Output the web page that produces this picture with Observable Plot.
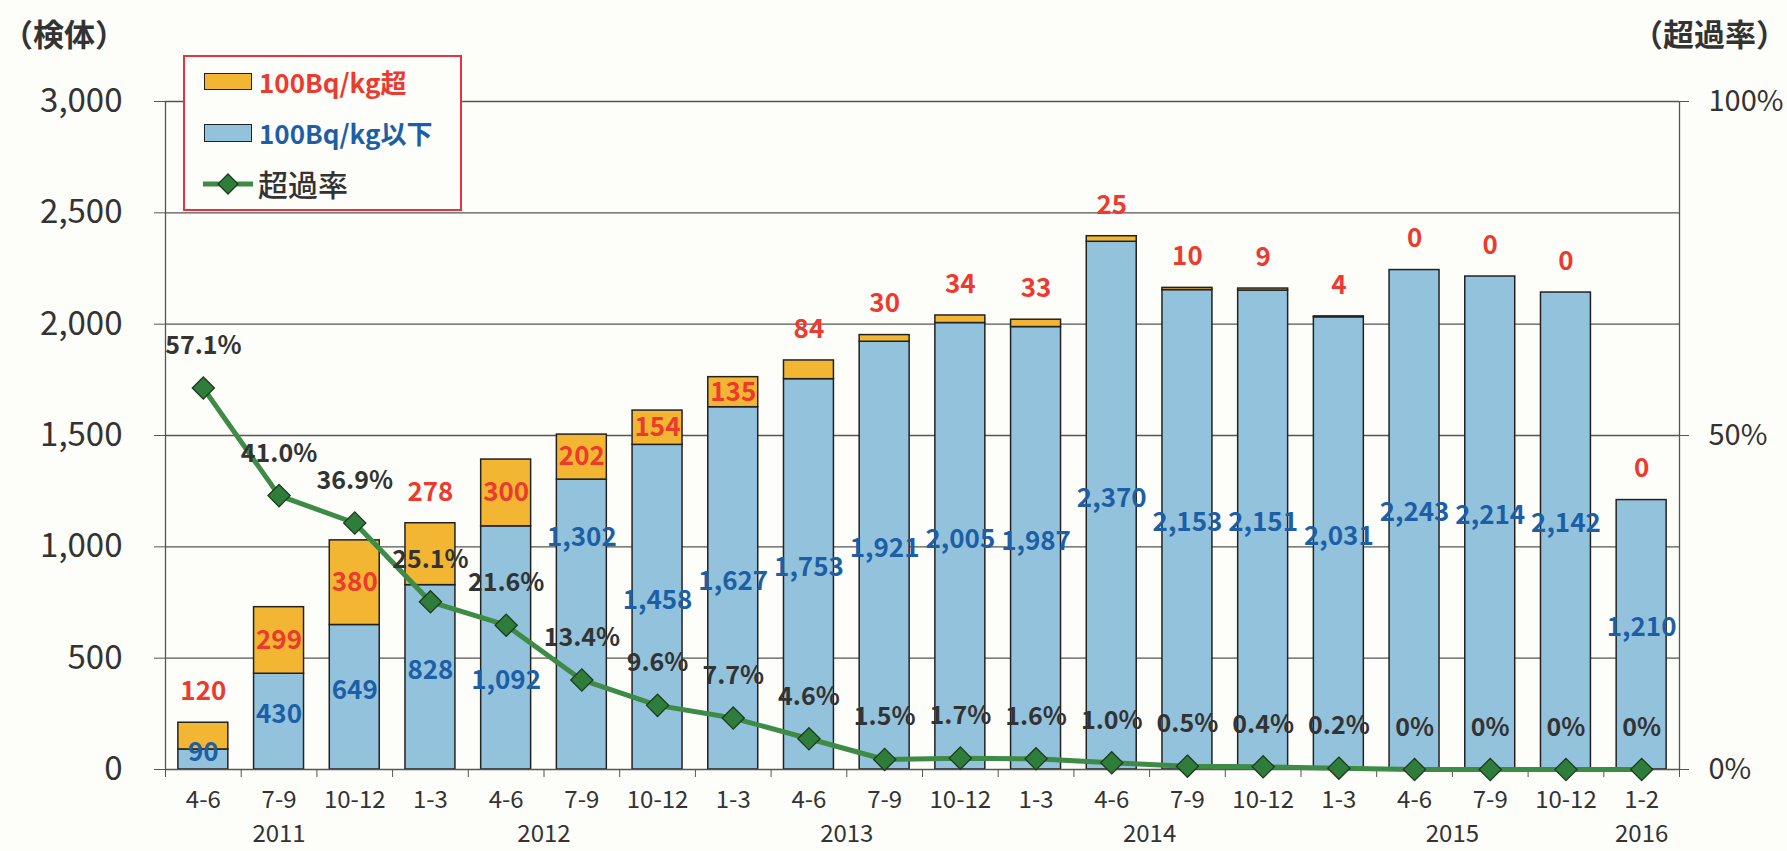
<!DOCTYPE html>
<html><head><meta charset="utf-8">
<script src="https://cdn.jsdelivr.net/npm/d3@7"></script>
<script src="https://cdn.jsdelivr.net/npm/@observablehq/plot@0.6"></script>
<style>
body{margin:0;background:#fdfdf9;font-family:"Noto Sans CJK JP","Noto Sans",sans-serif;}
#wrap{position:relative;width:1787px;height:851px;overflow:hidden;}
.ttl{position:absolute;font-size:31px;font-weight:700;color:#333;white-space:nowrap;line-height:1;}
#legend{position:absolute;left:183px;top:55px;width:279px;height:156px;border:2px solid #e8333a;box-sizing:border-box;background:#fdfdf9;}
.lg{position:absolute;white-space:nowrap;line-height:1;}
.sw{position:absolute;border:1.5px solid #222;box-sizing:border-box;}
</style></head><body><div id="wrap"></div>
<script>
// ---- data ----
const categories = ["4-6","7-9","10-12","1-3","4-6","7-9","10-12","1-3","4-6","7-9","10-12","1-3","4-6","7-9","10-12","1-3","4-6","7-9","10-12","1-2"];
const years      = ["2011","2011","2011","2012","2012","2012","2012","2013","2013","2013","2013","2014","2014","2014","2014","2015","2015","2015","2015","2016"];
const belowLimit = [90,430,649,828,1092,1302,1458,1627,1753,1921,2005,1987,2370,2153,2151,2031,2243,2214,2142,1210];
const overLimit  = [120,299,380,278,300,202,154,135,84,30,34,33,25,10,9,4,0,0,0,0];
const overRate   = [57.1,41.0,36.9,25.1,21.6,13.4,9.6,7.7,4.6,1.5,1.7,1.6,1.0,0.5,0.4,0.2,0,0,0,0];
const rateLabels = ["57.1%","41.0%","36.9%","25.1%","21.6%","13.4%","9.6%","7.7%","4.6%","1.5%","1.7%","1.6%","1.0%","0.5%","0.4%","0.2%","0%","0%","0%","0%"];
const countTicks = [0,500,1000,1500,2000,2500,3000];
const rateTicks  = [0,50,100];
const legendLabels = ["100Bq/kg超","100Bq/kg以下","超過率"];
const leftTitle = "（検体）";
const rightTitle = "（超過率）";

// ---- styles ----
const FONT = '"Noto Sans CJK JP","Noto Sans",sans-serif';
const C = {blue:"#93c2dc", orange:"#f2b632", redText:"#ec3a2e", blueText:"#1d5fa6", text:"#333",
           green:"#3d8b46", mark:"#2f7d3a", markStroke:"#1d3b20", grid:"#555", edge:"#222"};
const W = 1787, H = 851, mT = 101, mB = 82, mL = 165, mR = 108;
const half = 0.33;
const yMax = 3000, rateToCount = yMax / 100;
const pxPerCount = (H - mT - mB) / yMax;
const step = (W - mL - mR) / categories.length;
const rateDy = -42, overDy = -31, belowDy = -7;
const labelSize = 26, rateSize = 25;

const rows = categories.map((c, i) => ({
  i, cat: c, year: years[i], below: belowLimit[i], above: overLimit[i],
  total: belowLimit[i] + overLimit[i], rate: overRate[i], rateLabel: rateLabels[i]
}));
const fmt = d3.format(",");

// measure text widths for simple collision handling
const ctx = document.createElement("canvas").getContext("2d");
function tw(t, size) { ctx.font = `700 ${size}px ${FONT}`; return ctx.measureText(t).width; }
const px = i => mL + (i + 0.5) * step;
const py = v => H - mB - v * pxPerCount;
const placed = [];
function hits(b) { return placed.some(p => Math.abs(p.x - b.x) < (p.w + b.w) / 2 + 3 && Math.abs(p.y - b.y) < (p.h + b.h) / 2); }

rows.forEach(d => {
  placed.push({x: px(d.i), y: py(d.rate * rateToCount) + rateDy, w: tw(d.rateLabel, rateSize), h: rateSize});
  // keep labels off the markers too
  placed.push({x: px(d.i), y: py(d.rate * rateToCount), w: 24, h: 24});
});
// over-limit label inside the orange segment when tall enough and not colliding with the rate label
rows.forEach(d => {
  const rl = d.rate * rateToCount - rateDy / pxPerCount;
  const collide = rl >= d.below - 60 && rl <= d.total + 60;
  d.inside = d.above >= 125 && !collide;
  const yPix = d.inside ? py(d.below + d.above / 2) : py(d.total) + overDy;
  placed.push({x: px(d.i), y: yPix, w: tw(fmt(d.above), labelSize), h: labelSize});
});
rows.forEach(d => {
  const w = tw(fmt(d.below), labelSize);
  const base = py(d.below / 2) + belowDy;
  let shift = 0;
  for (const s of [0, -40, 40, -80, 80]) {
    shift = s;
    if (!hits({x: px(d.i), y: base + s, w, h: labelSize})) break;
  }
  d.belowShift = shift;
  placed.push({x: px(d.i), y: base + shift, w, h: labelSize});
});

const yearRows = d3.groups(rows, d => d.year).map(([y, g]) => ({year: y, center: (d3.min(g, d => d.i) + d3.max(g, d => d.i)) / 2}));
const xDomain = [-0.5, categories.length - 0.5];
const bounds = d3.range(categories.length + 1).map(k => k - 0.5);

const chart = Plot.plot({
  width: W, height: H, marginTop: mT, marginBottom: mB, marginLeft: mL, marginRight: mR,
  style: {background: "transparent", fontFamily: FONT, color: C.text},
  x: {type: "linear", domain: xDomain},
  y: {domain: [0, yMax]},
  marks: [
    Plot.ruleY(countTicks.filter(v => v > 0), {stroke: C.grid, strokeWidth: 1.3}),
    Plot.rectY(rows, {x1: d => d.i - half, x2: d => d.i + half, y1: 0, y2: "below", fill: C.blue, stroke: C.edge, strokeWidth: 1.5}),
    Plot.rectY(rows.filter(d => d.above > 0), {x1: d => d.i - half, x2: d => d.i + half, y1: "below", y2: "total", fill: C.orange, stroke: C.edge, strokeWidth: 1.5}),
    Plot.ruleX([xDomain[0], xDomain[1]], {stroke: C.grid, strokeWidth: 1.3}),
    Plot.ruleY([0], {stroke: C.grid, strokeWidth: 1.5}),
    Plot.axisY({ticks: countTicks, tickSize: 11, tickPadding: 32, tickFormat: fmt, fontSize: 33, stroke: C.grid}),
    Plot.axisY({anchor: "right", ticks: rateTicks.map(r => r * rateToCount), tickSize: 9, tickPadding: 20,
                tickFormat: v => `${v / rateToCount}%`, fontSize: 29, stroke: C.grid}),
    Plot.axisX({ticks: bounds, tickSize: 8, tickFormat: () => "", stroke: C.grid}),
    Plot.text(rows, {x: "i", y: 0, text: "cat", dy: 31, fontSize: 24, fill: C.text}),
    Plot.text(yearRows, {x: "center", y: 0, text: "year", dy: 65, fontSize: 24, fill: C.text}),
    // value labels
    Plot.text(rows, {x: "i", y: d => d.below / 2 - d.belowShift / pxPerCount, text: d => fmt(d.below), dy: belowDy, fill: C.blueText, fontSize: labelSize, fontWeight: 700}),
    Plot.text(rows.filter(d => d.inside), {x: "i", y: d => d.below + d.above / 2, text: d => fmt(d.above), fill: C.redText, fontSize: labelSize, fontWeight: 700}),
    Plot.text(rows.filter(d => !d.inside), {x: "i", y: "total", text: d => fmt(d.above), dy: overDy, fill: C.redText, fontSize: labelSize, fontWeight: 700}),
    // rate line
    Plot.line(rows, {x: "i", y: d => d.rate * rateToCount, stroke: C.green, strokeWidth: 5}),
    Plot.dot(rows, {x: "i", y: d => d.rate * rateToCount, symbol: "diamond2", r: 10, fill: C.mark, stroke: C.markStroke, strokeWidth: 1.3}),
    Plot.text(rows, {x: "i", y: d => d.rate * rateToCount, text: "rateLabel", dy: rateDy, fill: C.text, fontSize: rateSize, fontWeight: 700})
  ]
});

const wrap = document.getElementById("wrap");
chart.style.position = "absolute"; chart.style.left = "0"; chart.style.top = "0";
wrap.appendChild(chart);

function el(tag, cls, css, txt) {
  const e = document.createElement(tag);
  if (cls) e.className = cls;
  Object.assign(e.style, css);
  if (txt != null) e.textContent = txt;
  wrap.appendChild(e);
  return e;
}
el("div", "ttl", {left: "2px", top: "17px"}, leftTitle);
el("div", "ttl", {right: "0px", top: "17px"}, rightTitle);
el("div", null, {}).id = "legend";
el("div", "sw", {left: "204px", top: "73px", width: "48px", height: "17px", background: C.orange});
el("div", "sw", {left: "204px", top: "124px", width: "48px", height: "18px", background: C.blue});
el("div", "lg", {left: "259px", top: "69px", fontSize: "26px", fontWeight: "700", color: C.redText}, legendLabels[0]);
el("div", "lg", {left: "259px", top: "120px", fontSize: "26px", fontWeight: "700", color: C.blueText}, legendLabels[1]);
el("div", "lg", {left: "258px", top: "168px", fontSize: "30px", fontWeight: "500", color: C.text}, legendLabels[2]);
const ns = "http://www.w3.org/2000/svg";
const ls = document.createElementNS(ns, "svg");
ls.setAttribute("width", "52"); ls.setAttribute("height", "28");
Object.assign(ls.style, {position: "absolute", left: "202px", top: "170px"});
ls.innerHTML = `<line x1="1" y1="14" x2="51" y2="14" stroke="${C.green}" stroke-width="5"/>` +
  `<path d="M26 4 L36 14 L26 24 L16 14 Z" fill="${C.mark}" stroke="${C.markStroke}" stroke-width="1.3"/>`;
wrap.appendChild(ls);
</script></body></html>
